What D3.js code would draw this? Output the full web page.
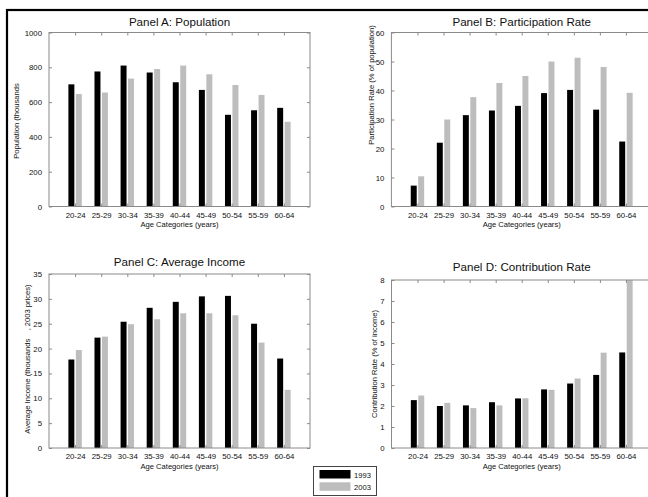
<!DOCTYPE html>
<html><head><meta charset="utf-8">
<script src="https://cdn.jsdelivr.net/npm/d3@7"></script>
<style>
body{margin:0;background:#fff;}
text{font-family:"Liberation Sans",Arial,Helvetica,sans-serif;fill:#111;}
</style></head>
<body><svg id="c" width="648" height="497"></svg>
<script>
const categories = ["20-24","25-29","30-34","35-39","40-44","45-49","50-54","55-59","60-64"];
const seriesNames = ["1993","2003"];
const popA93 = [702,776,810,770,714,670,527,553,567];
const popA03 = [646,655,735,790,810,760,698,641,487];
const partB93 = [7.2,22.0,31.5,33.1,34.7,39.1,40.2,33.4,22.4];
const partB03 = [10.4,30.0,37.7,42.6,45.0,50.0,51.3,48.1,39.2];
const incC93 = [17.8,22.2,25.4,28.2,29.4,30.5,30.6,25.0,18.0];
const incC03 = [19.7,22.4,24.9,25.9,27.1,27.1,26.7,21.2,11.7];
const conD93 = [2.28,2.00,2.03,2.18,2.36,2.79,3.07,3.48,4.55];
const conD03 = [2.50,2.15,1.90,2.03,2.37,2.77,3.31,4.54,8.0];
const ticksA = [0,200,400,600,800,1000];
const ticksB = [0,10,20,30,40,50,60];
const ticksC = [0,5,10,15,20,25,30,35];
const ticksD = [0,1,2,3,4,5,6,7,8];
const titles = ["Panel A: Population","Panel B: Participation Rate","Panel C: Average Income","Panel D: Contribution Rate"];
const yLabels = ["Population (thousands","Participation Rate (% of population)","Average Income (thousands    , 2003 prices)","Contribution Rate (% of income)"];
const xLabel = "Age Categories (years)";
const colors = ["#000000","#bdbdbd"];

const panels = [
  {title:titles[0], ylab:yLabels[0], s:[popA93,popA03], ticks:ticksA, x0:49, x1:310, y0:32.5, y1:206.5, tY:26, labX:18.5, labY:121},
  {title:titles[1], ylab:yLabels[1], s:[partB93,partB03], ticks:ticksB, x0:391.4, x1:652, y0:32.5, y1:206.5, tY:26, labX:373.5, labY:85},
  {title:titles[2], ylab:yLabels[2], s:[incC93,incC03], ticks:ticksC, x0:49, x1:310, y0:274, y1:448, tY:266, labX:29.5, labY:359},
  {title:titles[3], ylab:yLabels[3], s:[conD93,conD03], ticks:ticksD, x0:391.5, x1:652, y0:280, y1:448, tY:271, labX:377, labY:364}
];

const svg = d3.select("#c");
// outer frame
svg.append("rect").attr("x",7).attr("y",10).attr("width",700).attr("height",600)
  .attr("fill","none").attr("stroke","#000").attr("stroke-width",2.2);

const axisCol = "#8a8a8a";
panels.forEach(p=>{
  const x = d3.scaleLinear().domain([0,10]).range([p.x0,p.x1]);
  const ymax = p.ticks[p.ticks.length-1];
  const y = d3.scaleLinear().domain([0,ymax]).range([p.y1,p.y0]);
  const g = svg.append("g");
  const bw = x(0.2286)-x(0);
  p.s.forEach((vals,si)=>{
    const off = si===0 ? -0.143 : 0.143;
    g.selectAll(null).data(vals).enter().append("rect")
      .attr("x",(d,i)=>x(i+1+off)-bw/2)
      .attr("width",bw)
      .attr("y",d=>y(Math.min(d,ymax)))
      .attr("height",d=>y(0)-y(Math.min(d,ymax)))
      .attr("fill",colors[si]);
  });
  // box
  g.append("rect").attr("x",p.x0).attr("y",p.y0).attr("width",p.x1-p.x0).attr("height",p.y1-p.y0)
    .attr("fill","none").attr("stroke",axisCol).attr("stroke-width",1);
  const ax = d3.axisBottom(x).tickValues(d3.range(1,10)).tickFormat((d)=>categories[d-1]).tickSize(-3).tickPadding(6);
  const gx = g.append("g").attr("transform",`translate(0,${p.y1})`).call(ax);
  const axT = d3.axisTop(x).tickValues(d3.range(1,10)).tickFormat("").tickSize(-3);
  const gxt = g.append("g").attr("transform",`translate(0,${p.y0})`).call(axT);
  const ay = d3.axisLeft(y).tickValues(p.ticks).tickFormat(d3.format("d")).tickSize(-3).tickPadding(7);
  const gy = g.append("g").attr("transform",`translate(${p.x0},0)`).call(ay);
  const ayR = d3.axisRight(y).tickValues(p.ticks).tickFormat("").tickSize(-3);
  const gyr = g.append("g").attr("transform",`translate(${p.x1},0)`).call(ayR);
  [gx,gxt,gy,gyr].forEach(a=>{
    a.select(".domain").remove();
    a.selectAll(".tick line").attr("stroke",axisCol);
    a.selectAll("text").attr("font-size",7.8).attr("fill","#111").attr("font-family","Liberation Sans, Arial, sans-serif");
  });
  gx.selectAll("text").attr("dy","0.71em").attr("y",5.5);
  g.append("text").attr("x",(p.x0+p.x1)/2).attr("y",p.tY).attr("text-anchor","middle")
    .attr("font-size",11.6).text(p.title);
  g.append("text").attr("x",(p.x0+p.x1)/2).attr("y",p.y1+20.5).attr("text-anchor","middle")
    .attr("font-size",7.6).text(xLabel);
  g.append("text").attr("transform",`translate(${p.labX},${p.labY}) rotate(-90)`).attr("text-anchor","middle")
    .attr("font-size",7.6).style("white-space","pre").text(p.ylab);
});

// legend
const lg = svg.append("g");
lg.append("rect").attr("x",313.5).attr("y",466.5).attr("width",63).attr("height",29)
  .attr("fill","#fff").attr("stroke","#444").attr("stroke-width",1);
seriesNames.forEach((n,i)=>{
  lg.append("rect").attr("x",319.5).attr("y",470+i*12.3).attr("width",31).attr("height",8.5)
    .attr("fill",colors[i]);
  lg.append("text").attr("x",354).attr("y",477.5+i*12.3).attr("font-size",7.6).text(n);
});
</script></body></html>
